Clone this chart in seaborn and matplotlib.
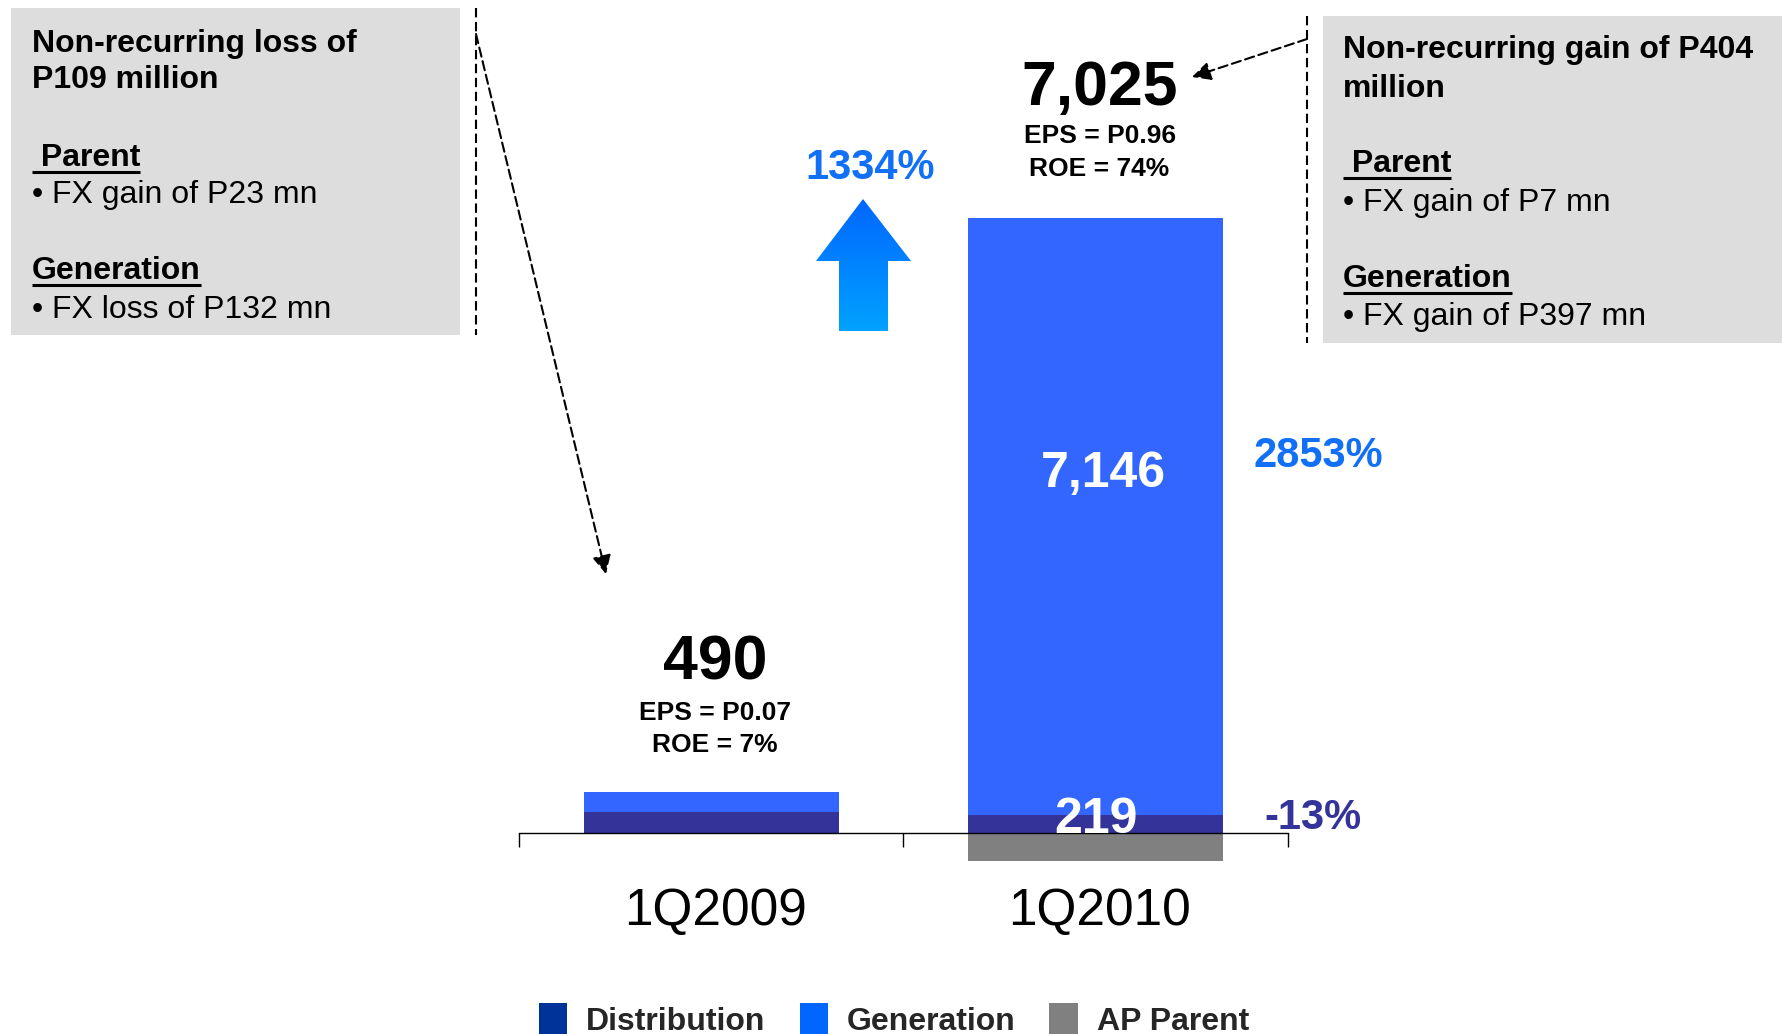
import numpy as np
import pandas as pd
import matplotlib
matplotlib.use("Agg")
import matplotlib.pyplot as plt
import matplotlib.transforms as mtransforms
from matplotlib.patches import Patch, Polygon, Rectangle
import seaborn as sns

# ---------------- data ----------------
quarters = ["1Q2009", "1Q2010"]
distribution = [252, 219]
generation = [242, 7146]
ap_parent = [-4, -340]
net_income = ["490", "7,025"]
eps = ["EPS = P0.07", "EPS = P0.96"]
roe = ["ROE = 7%", "ROE = 74%"]
generation_label = "7,146"
distribution_label = "219"
growth_total = "1334%"
growth_generation = "2853%"
growth_distribution = "-13%"
legend_labels = ["Distribution", "Generation", "AP Parent"]

left_box = ["Non-recurring loss of", "P109 million", " Parent", "\u2022 FX gain of P23 mn",
            "Generation", "\u2022 FX loss of P132 mn"]
right_box = ["Non-recurring gain of P404", "million", " Parent", "\u2022 FX gain of P7 mn",
             "Generation", "\u2022 FX gain of P397 mn"]

# ---------------- style ----------------
sns.set_style("white")
FONT = ["Liberation Sans", "DejaVu Sans"]
plt.rcParams["font.family"] = FONT

GEN_C = "#3366FF"
DIST_C = "#333399"
GRAY_C = "#808080"
GEN_LEG = "#0066FF"
DIST_LEG = "#003399"
BLUE_TXT = "#1170F5"

W, H = 1783, 1034
fig = plt.figure(figsize=(W / 100, H / 100), dpi=100)

# main axes geometry (pixels)
y0px = 833.0
k = 615.0 / 7365.0
ymin, ymax = -1500, 9000
bot_px = y0px - ymin * k
top_px = y0px - ymax * k
left_px, right_px = 519, 1288
ax = fig.add_axes([left_px / W, (H - bot_px) / H, (right_px - left_px) / W, (bot_px - top_px) / H])

df = pd.DataFrame({
    "quarter": quarters,
    "pos_top": [d + g for d, g in zip(distribution, generation)],
    "distribution": distribution,
    "ap_parent": ap_parent,
})

bw = 0.663
sns.barplot(data=df, x="quarter", y="pos_top", color=GEN_C, saturation=1, width=bw,
            errorbar=None, ax=ax, linewidth=0, edgecolor="none")
sns.barplot(data=df, x="quarter", y="distribution", color=DIST_C, saturation=1, width=bw,
            errorbar=None, ax=ax, linewidth=0, edgecolor="none")
sns.barplot(data=df, x="quarter", y="ap_parent", color=GRAY_C, saturation=1, width=bw,
            errorbar=None, ax=ax, linewidth=0, edgecolor="none")

ax.set_xlim(-0.5, 1.5)
ax.set_ylim(ymin, ymax)
ax.set_xlabel("")
ax.set_ylabel("")
ax.set_yticks([])
for s in ["left", "right", "top"]:
    ax.spines[s].set_visible(False)
ax.spines["bottom"].set_position(("data", 0))
ax.spines["bottom"].set_linewidth(1.0)
ax.spines["bottom"].set_color("black")
ax.spines["bottom"].set_zorder(5)
ax.set_xticks([-0.5, 0.5, 1.5], ["", "", ""])
ax.tick_params(axis="x", which="major", bottom=True, direction="out", length=10,
               width=1.0, color="black")
ax.patch.set_alpha(0)

# overlay axes in pixel coordinates
ov = fig.add_axes([0, 0, 1, 1], zorder=10)
ov.set_xlim(0, W)
ov.set_ylim(H, 0)
ov.axis("off")
ov.patch.set_alpha(0)

bx = mtransforms.blended_transform_factory(ax.transData, ov.transData)


def T(x, y, s, size, weight="bold", color="black", ha="left", transform=None):
    return ov.text(x, y, s, fontsize=size, fontweight=weight, color=color, ha=ha,
                   va="baseline", family=FONT, transform=transform or ov.transData)


# category labels
for i, q in enumerate(quarters):
    T(i + 0.01, 925, q, 37, weight="normal", ha="center", transform=bx)

# totals
tot_y = [(680, 720, 752), (105, 143, 176)]
for i in range(2):
    a, b, c = tot_y[i]
    T(i + 0.01, a, net_income[i], 45, ha="center", transform=bx)
    T(i + 0.01, b, eps[i], 19, ha="center", transform=bx)
    T(i + 0.01, c, roe[i], 19, ha="center", transform=bx)

T(1.02, 487, generation_label, 36, color="white", ha="center", transform=bx)
T(1.0, 833, distribution_label, 36, color="white", ha="center", transform=bx)
T(1318, 467, growth_generation, 30, color=BLUE_TXT, ha="center")
T(1313, 829, growth_distribution, 30, color=DIST_C, ha="center")
T(870, 179, growth_total, 30, color=BLUE_TXT, ha="center")

# gradient up arrow
arrow_pts = [(863, 199), (911, 261), (888, 261), (888, 331), (839, 331), (839, 261), (816, 261)]
poly = Polygon(arrow_pts, closed=True, facecolor="none", edgecolor="none")
ov.add_patch(poly)
c_top = np.array(matplotlib.colors.to_rgb("#0066FF"))
c_bot = np.array(matplotlib.colors.to_rgb("#00A2FF"))
tt = np.linspace(0, 1, 100)[:, None]
grad = (c_top[None, :] * (1 - tt) + c_bot[None, :] * tt)[:, None, :]
im = ov.imshow(grad, extent=(816, 911, 331, 199), origin="upper", aspect="auto", zorder=3)
im.set_clip_path(poly)
ov.set_xlim(0, W)
ov.set_ylim(H, 0)

# annotation boxes
ov.add_patch(Rectangle((11, 8), 449, 327, facecolor="#DDDDDD", edgecolor="none", zorder=0))
ov.add_patch(Rectangle((1323, 16), 470, 327, facecolor="#DDDDDD", edgecolor="none", zorder=0))

box_base_left = [52, 88, 166, 203, 279, 318]
box_base_right = [58, 97, 172, 211, 287, 325]
underline_idx = {2, 4}
ul_texts = []
for lines, bases, x in [(left_box, box_base_left, 32), (right_box, box_base_right, 1343)]:
    for j, (s, yb) in enumerate(zip(lines, bases)):
        weight = "normal" if s.startswith("\u2022") else "bold"
        t = T(x, yb, s, 23, weight=weight)
        if j in underline_idx:
            ul_texts.append((t, yb))

# dashed connector lines
dash = (0, (4.5, 2.2))
ov.plot([476, 476], [8, 335], color="black", lw=1.5, ls=dash)
ov.plot([1307, 1307], [16, 343], color="black", lw=1.5, ls=dash)
ov.annotate("", xy=(606, 574), xytext=(476, 34),
            arrowprops=dict(arrowstyle="-|>", color="black", lw=1.5, linestyle=dash,
                            mutation_scale=28, shrinkA=0, shrinkB=0))
ov.annotate("", xy=(1192, 77), xytext=(1307, 39),
            arrowprops=dict(arrowstyle="-|>", color="black", lw=1.5, linestyle=dash,
                            mutation_scale=28, shrinkA=0, shrinkB=0))

# legend
handles = [Patch(facecolor=c, edgecolor="none") for c in [DIST_LEG, GEN_LEG, GRAY_C]]
fig.legend(handles, legend_labels, loc="center left", bbox_to_anchor=(539 / W, 1 - 1020 / H),
           ncol=3, frameon=False, prop={"family": FONT, "weight": "bold", "size": 23},
           handlelength=0.88, handleheight=1.1, handletextpad=0.6, columnspacing=1.06,
           borderpad=0, borderaxespad=0)

# underlines
fig.canvas.draw()
r = fig.canvas.get_renderer()
for t, yb in ul_texts:
    bb = t.get_window_extent(renderer=r)
    ov.plot([bb.x0, bb.x1], [yb + 6, yb + 6], color="black", lw=2.2, solid_capstyle="butt")

fig.savefig("out.png", dpi=100)
